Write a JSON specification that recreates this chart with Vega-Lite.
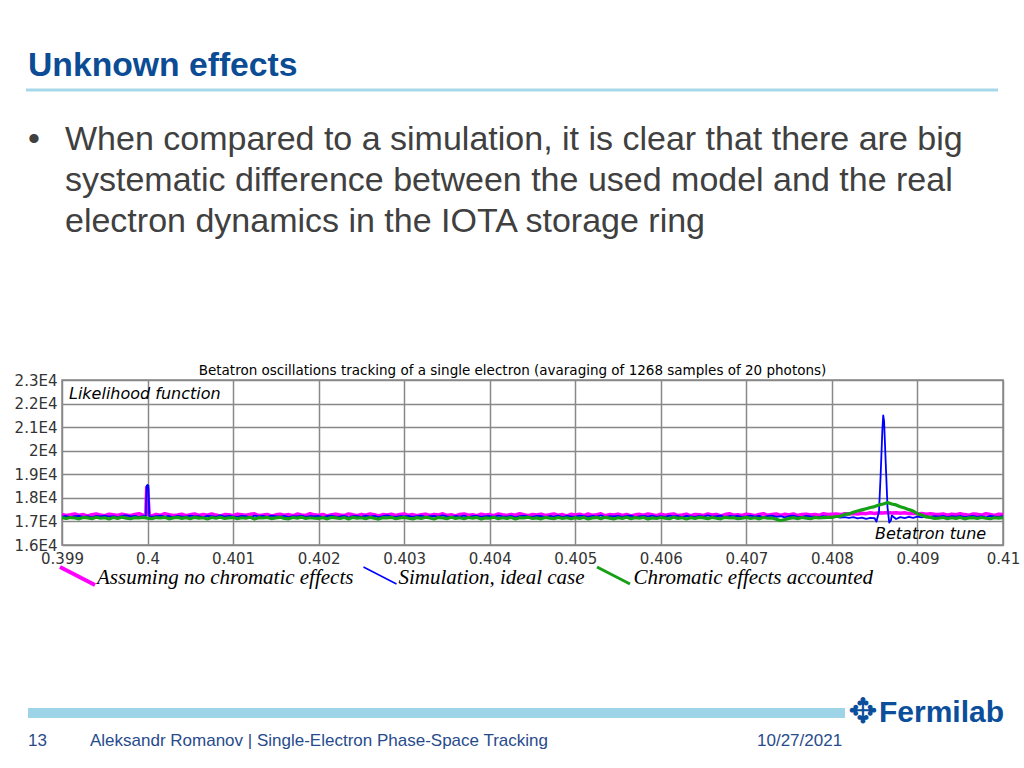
{
  "$schema": "https://vega.github.io/schema/vega-lite/v6.json",
  "width": 941,
  "height": 165,
  "autosize": {"type": "none"},
  "padding": {"left": 62, "top": 380, "right": 21, "bottom": 223},
  "background": "white",
  "config": {"view": {"stroke": "#888888", "strokeWidth": 1.5}},
  "data": {"values": [{}]},
  "datasets": {
    "tracks": [
      {"x":0.39900,"a":17300,"b":17205,"c":17160},
      {"x":0.39905,"a":17250,"b":17230,"c":17125},
      {"x":0.39910,"a":17280,"b":17185,"c":17165},
      {"x":0.39915,"a":17315,"b":17220,"c":17145},
      {"x":0.39920,"a":17260,"b":17240,"c":17110},
      {"x":0.39925,"a":17290,"b":17195,"c":17170},
      {"x":0.39930,"a":17235,"b":17225,"c":17150},
      {"x":0.39935,"a":17285,"b":17175,"c":17120},
      {"x":0.39940,"a":17320,"b":17235,"c":17175},
      {"x":0.39945,"a":17270,"b":17215,"c":17135},
      {"x":0.39950,"a":17245,"b":17245,"c":17155},
      {"x":0.39955,"a":17305,"b":17200,"c":17105},
      {"x":0.39960,"a":17280,"b":17220,"c":17165},
      {"x":0.39965,"a":17255,"b":17180,"c":17130},
      {"x":0.39970,"a":17310,"b":17230,"c":17180},
      {"x":0.39975,"a":17275,"b":17255,"c":17140},
      {"x":0.39980,"a":17240,"b":17210,"c":17115},
      {"x":0.39985,"a":17295,"b":17235,"c":17160},
      {"x":0.39990,"a":17325,"b":17190,"c":17145},
      {"x":0.39995,"a":17265,"b":17225,"c":17170},
      {"x":0.39998,"a":17280,"b":17240},
      {"x":0.39999,"a":18450,"b":18500},
      {"x":0.40000,"a":18400,"b":18550,"c":17140},
      {"x":0.40001,"b":18520},
      {"x":0.40002,"a":17260,"b":17230},
      {"x":0.40005,"a":17230,"b":17195,"c":17120},
      {"x":0.40010,"a":17300,"b":17220,"c":17165},
      {"x":0.40015,"a":17260,"b":17245,"c":17145},
      {"x":0.40020,"a":17330,"b":17205,"c":17175},
      {"x":0.40025,"a":17290,"b":17230,"c":17110},
      {"x":0.40030,"a":17250,"b":17180,"c":17150},
      {"x":0.40035,"a":17275,"b":17235,"c":17170},
      {"x":0.40040,"a":17305,"b":17215,"c":17130},
      {"x":0.40045,"a":17240,"b":17200,"c":17160},
      {"x":0.40050,"a":17280,"b":17250,"c":17115},
      {"x":0.40055,"a":17315,"b":17210,"c":17175},
      {"x":0.40060,"a":17255,"b":17225,"c":17140},
      {"x":0.40065,"a":17295,"b":17185,"c":17155},
      {"x":0.40070,"a":17265,"b":17240,"c":17105},
      {"x":0.40075,"a":17320,"b":17220,"c":17165},
      {"x":0.40080,"a":17270,"b":17195,"c":17135},
      {"x":0.40085,"a":17235,"b":17255,"c":17180},
      {"x":0.40090,"a":17290,"b":17205,"c":17125},
      {"x":0.40095,"a":17280,"b":17230,"c":17150},
      {"x":0.40100,"a":17245,"b":17215,"c":17165},
      {"x":0.40105,"a":17310,"b":17190,"c":17115},
      {"x":0.40110,"a":17285,"b":17235,"c":17155},
      {"x":0.40115,"a":17260,"b":17225,"c":17135},
      {"x":0.40120,"a":17300,"b":17175,"c":17175},
      {"x":0.40125,"a":17325,"b":17245,"c":17100},
      {"x":0.40130,"a":17250,"b":17210,"c":17160},
      {"x":0.40135,"a":17270,"b":17230,"c":17145},
      {"x":0.40140,"a":17295,"b":17195,"c":17170},
      {"x":0.40145,"a":17225,"b":17250,"c":17120},
      {"x":0.40150,"a":17280,"b":17220,"c":17150},
      {"x":0.40155,"a":17305,"b":17200,"c":17175},
      {"x":0.40160,"a":17265,"b":17240,"c":17130},
      {"x":0.40165,"a":17290,"b":17180,"c":17110},
      {"x":0.40170,"a":17240,"b":17225,"c":17165},
      {"x":0.40175,"a":17315,"b":17215,"c":17140},
      {"x":0.40180,"a":17275,"b":17245,"c":17180},
      {"x":0.40185,"a":17255,"b":17190,"c":17125},
      {"x":0.40190,"a":17330,"b":17230,"c":17155},
      {"x":0.40195,"a":17280,"b":17210,"c":17135},
      {"x":0.40200,"a":17260,"b":17235,"c":17130},
      {"x":0.40205,"a":17295,"b":17185,"c":17160},
      {"x":0.40210,"a":17235,"b":17225,"c":17110},
      {"x":0.40215,"a":17285,"b":17250,"c":17170},
      {"x":0.40220,"a":17310,"b":17200,"c":17150},
      {"x":0.40225,"a":17270,"b":17215,"c":17125},
      {"x":0.40230,"a":17250,"b":17240,"c":17165},
      {"x":0.40235,"a":17320,"b":17175,"c":17105},
      {"x":0.40240,"a":17280,"b":17230,"c":17175},
      {"x":0.40245,"a":17245,"b":17220,"c":17140},
      {"x":0.40250,"a":17300,"b":17195,"c":17155},
      {"x":0.40255,"a":17265,"b":17245,"c":17120},
      {"x":0.40260,"a":17315,"b":17205,"c":17170},
      {"x":0.40265,"a":17285,"b":17235,"c":17135},
      {"x":0.40270,"a":17230,"b":17180,"c":17100},
      {"x":0.40275,"a":17290,"b":17225,"c":17160},
      {"x":0.40280,"a":17275,"b":17255,"c":17145},
      {"x":0.40285,"a":17305,"b":17210,"c":17175},
      {"x":0.40290,"a":17255,"b":17190,"c":17115},
      {"x":0.40295,"a":17295,"b":17230,"c":17150},
      {"x":0.40300,"a":17320,"b":17210,"c":17170},
      {"x":0.40305,"a":17260,"b":17240,"c":17135},
      {"x":0.40310,"a":17290,"b":17195,"c":17110},
      {"x":0.40315,"a":17240,"b":17225,"c":17160},
      {"x":0.40320,"a":17280,"b":17245,"c":17125},
      {"x":0.40325,"a":17310,"b":17180,"c":17180},
      {"x":0.40330,"a":17250,"b":17220,"c":17145},
      {"x":0.40335,"a":17300,"b":17235,"c":17105},
      {"x":0.40340,"a":17270,"b":17200,"c":17165},
      {"x":0.40345,"a":17325,"b":17255,"c":17150},
      {"x":0.40350,"a":17255,"b":17215,"c":17120},
      {"x":0.40355,"a":17285,"b":17190,"c":17175},
      {"x":0.40360,"a":17235,"b":17230,"c":17130},
      {"x":0.40365,"a":17295,"b":17205,"c":17155},
      {"x":0.40370,"a":17315,"b":17250,"c":17115},
      {"x":0.40375,"a":17265,"b":17185,"c":17165},
      {"x":0.40380,"a":17280,"b":17225,"c":17140},
      {"x":0.40385,"a":17245,"b":17240,"c":17170},
      {"x":0.40390,"a":17305,"b":17195,"c":17100},
      {"x":0.40395,"a":17275,"b":17220,"c":17150},
      {"x":0.40400,"a":17290,"b":17230,"c":17135},
      {"x":0.40405,"a":17245,"b":17190,"c":17175},
      {"x":0.40410,"a":17315,"b":17245,"c":17115},
      {"x":0.40415,"a":17280,"b":17215,"c":17155},
      {"x":0.40420,"a":17255,"b":17200,"c":17130},
      {"x":0.40425,"a":17300,"b":17235,"c":17165},
      {"x":0.40430,"a":17265,"b":17175,"c":17105},
      {"x":0.40435,"a":17330,"b":17225,"c":17160},
      {"x":0.40440,"a":17285,"b":17250,"c":17145},
      {"x":0.40445,"a":17240,"b":17210,"c":17180},
      {"x":0.40450,"a":17295,"b":17195,"c":17125},
      {"x":0.40455,"a":17270,"b":17240,"c":17150},
      {"x":0.40460,"a":17310,"b":17220,"c":17110},
      {"x":0.40465,"a":17250,"b":17185,"c":17170},
      {"x":0.40470,"a":17280,"b":17230,"c":17140},
      {"x":0.40475,"a":17320,"b":17205,"c":17120},
      {"x":0.40480,"a":17260,"b":17245,"c":17165},
      {"x":0.40485,"a":17290,"b":17180,"c":17130},
      {"x":0.40490,"a":17235,"b":17235,"c":17155},
      {"x":0.40495,"a":17300,"b":17215,"c":17115},
      {"x":0.40500,"a":17275,"b":17200,"c":17160},
      {"x":0.40505,"a":17305,"b":17245,"c":17125},
      {"x":0.40510,"a":17250,"b":17220,"c":17170},
      {"x":0.40515,"a":17315,"b":17190,"c":17105},
      {"x":0.40520,"a":17260,"b":17235,"c":17150},
      {"x":0.40525,"a":17285,"b":17205,"c":17165},
      {"x":0.40530,"a":17325,"b":17255,"c":17120},
      {"x":0.40535,"a":17240,"b":17185,"c":17175},
      {"x":0.40540,"a":17290,"b":17225,"c":17140},
      {"x":0.40545,"a":17270,"b":17210,"c":17110},
      {"x":0.40550,"a":17310,"b":17240,"c":17155},
      {"x":0.40555,"a":17255,"b":17195,"c":17130},
      {"x":0.40560,"a":17295,"b":17230,"c":17180},
      {"x":0.40565,"a":17230,"b":17250,"c":17115},
      {"x":0.40570,"a":17280,"b":17180,"c":17160},
      {"x":0.40575,"a":17300,"b":17215,"c":17135},
      {"x":0.40580,"a":17265,"b":17235,"c":17170},
      {"x":0.40585,"a":17320,"b":17200,"c":17100},
      {"x":0.40590,"a":17285,"b":17245,"c":17150},
      {"x":0.40595,"a":17245,"b":17190,"c":17125},
      {"x":0.40600,"a":17305,"b":17225,"c":17165},
      {"x":0.40605,"a":17260,"b":17195,"c":17140},
      {"x":0.40610,"a":17290,"b":17250,"c":17115},
      {"x":0.40615,"a":17320,"b":17210,"c":17175},
      {"x":0.40620,"a":17250,"b":17230,"c":17130},
      {"x":0.40625,"a":17275,"b":17185,"c":17155},
      {"x":0.40630,"a":17310,"b":17240,"c":17105},
      {"x":0.40635,"a":17240,"b":17215,"c":17160},
      {"x":0.40640,"a":17295,"b":17190,"c":17125},
      {"x":0.40645,"a":17280,"b":17235,"c":17170},
      {"x":0.40650,"a":17255,"b":17205,"c":17150},
      {"x":0.40655,"a":17315,"b":17255,"c":17120},
      {"x":0.40660,"a":17270,"b":17200,"c":17165},
      {"x":0.40665,"a":17300,"b":17220,"c":17135},
      {"x":0.40670,"a":17235,"b":17245,"c":17110},
      {"x":0.40675,"a":17290,"b":17180,"c":17175},
      {"x":0.40680,"a":17325,"b":17230,"c":17145},
      {"x":0.40685,"a":17265,"b":17210,"c":17160},
      {"x":0.40690,"a":17285,"b":17240,"c":17115},
      {"x":0.40695,"a":17250,"b":17195,"c":17140},
      {"x":0.40700,"a":17310,"b":17215,"c":17170},
      {"x":0.40705,"a":17280,"b":17245,"c":17125},
      {"x":0.40710,"a":17245,"b":17200,"c":17155},
      {"x":0.40715,"a":17300,"b":17235,"c":17110},
      {"x":0.40720,"a":17330,"b":17185,"c":17165},
      {"x":0.40725,"a":17260,"b":17225,"c":17135},
      {"x":0.40730,"a":17290,"b":17250,"c":17145},
      {"x":0.40735,"a":17315,"b":17195,"c":17090},
      {"x":0.40740,"a":17255,"b":17220,"c":17040},
      {"x":0.40745,"a":17305,"b":17175,"c":17080},
      {"x":0.40750,"a":17275,"b":17230,"c":17130},
      {"x":0.40755,"a":17320,"b":17240,"c":17160},
      {"x":0.40760,"a":17250,"b":17205,"c":17120},
      {"x":0.40765,"a":17295,"b":17185,"c":17165},
      {"x":0.40770,"a":17310,"b":17235,"c":17140},
      {"x":0.40775,"a":17270,"b":17215,"c":17115},
      {"x":0.40780,"a":17300,"b":17200,"c":17170},
      {"x":0.40785,"a":17260,"b":17180,"c":17145},
      {"x":0.40790,"a":17325,"b":17225,"c":17160},
      {"x":0.40795,"a":17290,"b":17190,"c":17175},
      {"x":0.40800,"a":17305,"b":17175,"c":17170},
      {"x":0.40805,"a":17320,"b":17195,"c":17210},
      {"x":0.40810,"a":17290,"b":17160,"c":17220},
      {"x":0.40815,"a":17330,"b":17185,"c":17300},
      {"x":0.40820,"a":17315,"b":17155,"c":17320},
      {"x":0.40825,"a":17340,"b":17180,"c":17390},
      {"x":0.40830,"a":17310,"b":17125,"c":17440},
      {"x":0.40835,"a":17350,"b":17165,"c":17490},
      {"x":0.40840,"a":17330,"b":17105,"c":17540},
      {"x":0.40845,"a":17365,"b":17155,"c":17590},
      {"x":0.40850,"a":17340,"b":17135,"c":17630},
      {"x":0.40852,"b":16990},
      {"x":0.40855,"a":17370,"b":17400,"c":17700},
      {"x":0.40857,"b":19000},
      {"x":0.40859,"b":20900},
      {"x":0.40860,"a":17355,"b":21500,"c":17740},
      {"x":0.40861,"b":21250},
      {"x":0.40863,"b":19400},
      {"x":0.40865,"a":17380,"b":17600,"c":17800},
      {"x":0.40867,"b":16950},
      {"x":0.40869,"b":17050},
      {"x":0.40870,"a":17360,"b":17250,"c":17740},
      {"x":0.40875,"a":17370,"b":17105,"c":17700},
      {"x":0.40880,"a":17345,"b":17185,"c":17620},
      {"x":0.40885,"a":17365,"b":17145,"c":17570},
      {"x":0.40890,"a":17330,"b":17195,"c":17500},
      {"x":0.40895,"a":17350,"b":17155,"c":17440},
      {"x":0.40900,"a":17320,"b":17205,"c":17330},
      {"x":0.40905,"a":17335,"b":17175,"c":17270},
      {"x":0.40910,"a":17310,"b":17220,"c":17190},
      {"x":0.40915,"a":17325,"b":17190,"c":17170},
      {"x":0.40920,"a":17300,"b":17225,"c":17130},
      {"x":0.40925,"a":17295,"b":17200,"c":17140},
      {"x":0.40930,"a":17320,"b":17235,"c":17165},
      {"x":0.40935,"a":17265,"b":17185,"c":17120},
      {"x":0.40940,"a":17310,"b":17220,"c":17155},
      {"x":0.40945,"a":17285,"b":17205,"c":17130},
      {"x":0.40950,"a":17330,"b":17240,"c":17170},
      {"x":0.40955,"a":17290,"b":17180,"c":17110},
      {"x":0.40960,"a":17260,"b":17215,"c":17150},
      {"x":0.40965,"a":17315,"b":17230,"c":17160},
      {"x":0.40970,"a":17300,"b":17195,"c":17125},
      {"x":0.40975,"a":17270,"b":17225,"c":17165},
      {"x":0.40980,"a":17325,"b":17175,"c":17135},
      {"x":0.40985,"a":17295,"b":17235,"c":17115},
      {"x":0.40990,"a":17255,"b":17210,"c":17155},
      {"x":0.40995,"a":17310,"b":17190,"c":17140},
      {"x":0.41000,"a":17290,"b":17220,"c":17160}
    ]
  },
  "layer": [
    {
      "data": {"name": "tracks"},
      "transform": [
        {"fold": ["a", "b", "c"], "as": ["series", "value"]},
        {"filter": "isValid(datum.value)"}
      ],
      "mark": {"type": "line", "strokeJoin": "round"},
      "encoding": {
        "x": {"field": "x", "type": "quantitative",
          "scale": {"domain": [0.399, 0.41], "nice": false, "zero": false},
          "axis": {"values": [0.399, 0.4, 0.401, 0.402, 0.403, 0.404, 0.405, 0.406, 0.407, 0.408, 0.409, 0.41], "format": ".3~f", "title": null, "grid": true, "gridColor": "#888888", "gridWidth": 1.5, "domain": false, "ticks": false, "labelFont": "DejaVu Sans", "labelFontSize": 15, "labelColor": "#333333", "labelPadding": 6, "labelFlush": false, "labelOverlap": false}},
        "y": {"field": "value", "type": "quantitative",
          "scale": {"domain": [16000, 23000], "nice": false, "zero": false},
          "axis": {"values": [16000, 17000, 18000, 19000, 20000, 21000, 22000, 23000], "tickCount": 8, "labelExpr": "datum.value / 10000 + 'E4'", "title": null, "grid": true, "gridColor": "#888888", "gridWidth": 1.5, "domain": false, "ticks": false, "labelFont": "DejaVu Sans", "labelFontSize": 15, "labelColor": "#333333", "labelPadding": 5, "labelFlush": false, "labelOverlap": false}},
        "color": {"field": "series", "type": "nominal", "scale": {"domain": ["a", "b", "c"], "range": ["#ff00ff", "#0000ff", "#16a016"]}, "legend": null},
        "strokeWidth": {"field": "series", "type": "nominal", "scale": {"type": "ordinal", "domain": ["a", "b", "c"], "range": [3.5, 1.8, 3.2]}, "legend": null}
      }
    },
    {
      "mark": {"type": "text", "text": "Betatron oscillations tracking of a single electron (avaraging of 1268 samples of 20 photons)", "font": "DejaVu Sans", "fontSize": 13.5, "align": "center", "baseline": "alphabetic", "color": "#000000"},
      "encoding": {"x": {"datum": 0.4042662}, "y": {"datum": 23212}}
    },
    {
      "mark": {"type": "text", "text": "Likelihood function", "font": "DejaVu Sans", "fontStyle": "italic", "fontSize": 16, "align": "left", "baseline": "alphabetic", "color": "#000000"},
      "encoding": {"x": {"datum": 0.3990818}, "y": {"datum": 22194}}
    },
    {
      "mark": {"type": "text", "text": "Betatron tune", "font": "DejaVu Sans", "fontStyle": "italic", "fontSize": 16, "align": "left", "baseline": "alphabetic", "color": "#000000"},
      "encoding": {"x": {"datum": 0.4085037}, "y": {"datum": 16254}}
    },
    {
      "mark": {"type": "rule", "color": "#ff00ff", "strokeWidth": 4},
      "encoding": {"x": {"datum": 0.3989766}, "x2": {"datum": 0.3993858}, "y": {"datum": 15067}, "y2": {"datum": 14303}}
    },
    {
      "mark": {"type": "rule", "color": "#0000ff", "strokeWidth": 1.5},
      "encoding": {"x": {"datum": 0.4025244}, "x2": {"datum": 0.4029102}, "y": {"datum": 15067}, "y2": {"datum": 14346}}
    },
    {
      "mark": {"type": "rule", "color": "#16a016", "strokeWidth": 3},
      "encoding": {"x": {"datum": 0.405254}, "x2": {"datum": 0.4056396}, "y": {"datum": 15067}, "y2": {"datum": 14346}}
    },
    {
      "mark": {"type": "text", "text": "Assuming no chromatic effects", "font": "Liberation Serif", "fontStyle": "italic", "fontSize": 21, "align": "left", "baseline": "alphabetic", "color": "#000000"},
      "encoding": {"x": {"datum": 0.3994091}, "y": {"datum": 14345}}
    },
    {
      "mark": {"type": "text", "text": "Simulation, ideal case", "font": "Liberation Serif", "fontStyle": "italic", "fontSize": 21, "align": "left", "baseline": "alphabetic", "color": "#000000"},
      "encoding": {"x": {"datum": 0.4029336}, "y": {"datum": 14345}}
    },
    {
      "mark": {"type": "text", "text": "Chromatic effects accounted", "font": "Liberation Serif", "fontStyle": "italic", "fontSize": 21, "align": "left", "baseline": "alphabetic", "color": "#000000"},
      "encoding": {"x": {"datum": 0.4056807}, "y": {"datum": 14345}}
    },
    {
      "mark": {"type": "text", "text": "Unknown effects", "font": "Liberation Sans", "fontWeight": "bold", "fontSize": 33.7, "align": "left", "baseline": "alphabetic", "color": "#0b4c95"},
      "encoding": {"x": {"datum": 0.3986026}, "y": {"datum": 35897}}
    },
    {
      "mark": {"type": "rule", "color": "#a6d8ea", "strokeWidth": 3},
      "encoding": {"x": {"datum": 0.3985792}, "x2": {"datum": 0.4099416}, "y": {"datum": 35303}}
    },
    {
      "mark": {"type": "text", "text": "•", "font": "Liberation Sans", "fontSize": 34, "align": "left", "baseline": "alphabetic", "color": "#404040"},
      "encoding": {"x": {"datum": 0.3986026}, "y": {"datum": 32758}}
    },
    {
      "mark": {"type": "text", "text": ["When compared to a simulation, it is clear that there are big", "systematic difference between the used model and the real", "electron dynamics in the IOTA storage ring"], "lineHeight": 41, "font": "Liberation Sans", "fontSize": 34, "align": "left", "baseline": "alphabetic", "color": "#404040"},
      "encoding": {"x": {"datum": 0.3990351}, "y": {"datum": 32758}}
    },
    {
      "mark": {"type": "rect", "color": "#9dd4e7"},
      "encoding": {"x": {"datum": 0.3986026}, "x2": {"datum": 0.408153}, "y": {"datum": 9085}, "y2": {"datum": 8661}}
    },
    {
      "mark": {"type": "text", "text": "13", "font": "Liberation Sans", "fontSize": 17, "align": "left", "baseline": "middle", "color": "#284b8c"},
      "encoding": {"x": {"datum": 0.3986026}, "y": {"datum": 7685}}
    },
    {
      "mark": {"type": "text", "text": "Aleksandr Romanov | Single-Electron Phase-Space Tracking", "font": "Liberation Sans", "fontSize": 17, "align": "left", "baseline": "middle", "color": "#284b8c"},
      "encoding": {"x": {"datum": 0.3993273}, "y": {"datum": 7685}}
    },
    {
      "mark": {"type": "text", "text": "10/27/2021", "font": "Liberation Sans", "fontSize": 17, "align": "left", "baseline": "middle", "color": "#284b8c"},
      "encoding": {"x": {"datum": 0.4071243}, "y": {"datum": 7685}}
    },
    {
      "mark": {"type": "text", "text": "✥", "font": "DejaVu Sans", "fontWeight": "bold", "fontSize": 35, "align": "center", "baseline": "middle", "color": "#0b4f9c"},
      "encoding": {"x": {"datum": 0.4083636}, "y": {"datum": 8915}}
    },
    {
      "mark": {"type": "text", "text": "Fermilab", "font": "Liberation Sans", "fontWeight": "bold", "fontSize": 30, "align": "left", "baseline": "alphabetic", "color": "#0b4f9c"},
      "encoding": {"x": {"datum": 0.4085505}, "y": {"datum": 8491}}
    }
  ]
}
